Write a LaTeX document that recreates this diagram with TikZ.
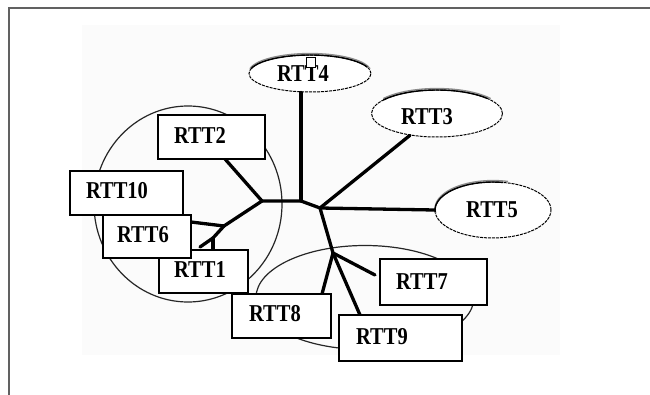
\documentclass[tikz,border=0pt]{standalone}
\usepackage{fontspec}
\usepackage{graphicx}
\setmainfont{Liberation Serif}
\usetikzlibrary{shapes.geometric,calc}
\begin{document}
\begin{tikzpicture}[x=1pt,y=-1pt,
  frameline/.style={draw=black!62,line width=2pt},
  group/.style={draw=black!85,line width=1.2pt},
  box/.style={draw=black,line width=1.2pt,fill=white,rectangle,inner sep=0pt},
  oval/.style={draw=black,line width=1pt,dash pattern=on 3pt off 1pt,fill=white,ellipse,inner sep=0pt},
  ovaltop/.style={draw=black,line width=1.4pt},
  ovalshade/.style={draw=black!45,line width=1.3pt},
  link/.style={draw=black,line width=3.3pt,line cap=round,line join=round},
  lbl/.style={inner sep=0pt,font=\bfseries\fontsize{20.5}{24}\selectfont}]
\useasboundingbox (0,0) rectangle (650,395);
\fill[white] (0,0) rectangle (650,395);
\fill[black!1.5] (82,25) rectangle (560,355);
\draw[frameline] (9,395) -- (9,8) -- (650,8);

% group outlines
\draw[group] (188,204) ellipse [x radius=94,y radius=98];
\draw[group] (365,297.5) ellipse [x radius=109,y radius=52];

% hub coordinates
\coordinate (hubL) at (262,201);
\coordinate (hubT) at (301,201);
\coordinate (hubR) at (320,208);
\coordinate (hubB) at (333,253);
\coordinate (j1) at (224,226);
\coordinate (j2) at (213,238);
\coordinate (e1) at (200,247);
\coordinate (e7) at (375,275);

% ellipses
\node[oval,minimum width=122pt,minimum height=37pt] (rtt4) at (310,73.5) {};
\node[oval,minimum width=131pt,minimum height=47pt] (rtt3) at (437,113.5) {};
\node[oval,minimum width=116pt,minimum height=56pt] (rtt5) at (493,210) {};
\draw[ovalshade] (310,72) ++(190:61 and 18.5) arc[start angle=190,end angle=350,x radius=61,y radius=18.5];
\draw[ovaltop] (310,73.5) ++(195:61 and 18.5) arc[start angle=195,end angle=340,x radius=61,y radius=18.5];
\draw[ovalshade] (437,112) ++(215:65.5 and 23.5) arc[start angle=215,end angle=325,x radius=65.5,y radius=23.5];
\draw[ovaltop] (437,113.5) ++(215:65.5 and 23.5) arc[start angle=215,end angle=320,x radius=65.5,y radius=23.5];
\draw[ovalshade] (493,208.5) ++(170:58 and 28) arc[start angle=170,end angle=285,x radius=58,y radius=28];
\draw[ovaltop] (493,210) ++(175:58 and 28) arc[start angle=175,end angle=280,x radius=58,y radius=28];

% links
\draw[link] (rtt4.south -| hubT) -- (hubT);
\draw[link] (hubL) -- (hubT) -- (hubR) -- (hubB);
\draw[link] (hubR) -- (rtt3);
\draw[link] (hubR) -- (rtt5.west);
\draw[link] (hubL) -- (225,159);
\draw[link] (hubL) -- (j1) -- (191,222);
\draw[link] (j1) -- (j2) -- (e1);
\draw[link] (j2) -- (213,250);
\draw[link] (hubB) -- (322,294);
\draw[link] (hubB) -- (360,315);
\draw[link] (hubB) -- (e7);

% boxes
\node[box,minimum width=107pt,minimum height=44pt] (rtt2) at (211.5,137) {};
\node[box,minimum width=89pt,minimum height=43pt] (rtt1) at (203.5,271.5) {};
\node[box,minimum width=88pt,minimum height=43pt] (rtt6) at (147,236.5) {};
\node[box,minimum width=113pt,minimum height=44pt] (rtt10) at (126.5,193) {};
\node[box,minimum width=107pt,minimum height=46pt] (rtt7) at (433.5,282) {};
\node[box,minimum width=99pt,minimum height=44pt] (rtt8) at (281.5,316) {};
\node[box,minimum width=123pt,minimum height=46pt] (rtt9) at (400.5,338) {};

% labels
\node[lbl] (l2) at (200,135) {\scalebox{1}[1.18]{RTT2}};
\node[lbl] (l10) at (117,191) {\scalebox{1}[1.18]{RTT10}};
\node[lbl] (l6) at (143,235) {\scalebox{1}[1.18]{RTT6}};
\node[lbl] (l1) at (200,270) {\scalebox{1}[1.18]{RTT1}};
\node[lbl] (l7) at (422,282) {\scalebox{1}[1.18]{RTT7}};
\node[lbl] (l8) at (275,314) {\scalebox{1}[1.18]{RTT8}};
\node[lbl] (l9) at (382,337) {\scalebox{1}[1.18]{RTT9}};
\node[lbl] (l4) at (303,74) {\scalebox{1}[1.18]{RTT4}};
\node[lbl] (l3) at (427,117) {\scalebox{1}[1.18]{RTT3}};
\node[lbl] (l5) at (492,210) {\scalebox{1}[1.18]{RTT5}};
\draw[fill=white,line width=1pt] (306,57.5) rectangle (315.5,68);
\end{tikzpicture}
\end{document}
